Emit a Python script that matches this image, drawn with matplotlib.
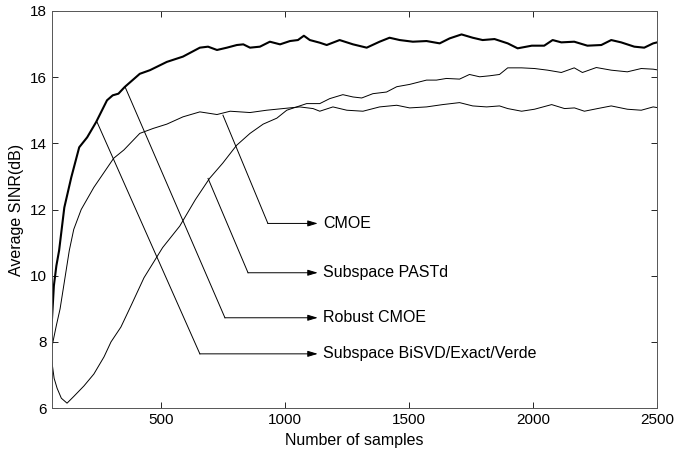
import numpy as np
import matplotlib
matplotlib.use("Agg")
import matplotlib.pyplot as plt

plt.rcParams["font.family"] = ["Liberation Sans", "DejaVu Sans"]

# thick curve (two algorithms lying on top of each other)
thick_x = [62, 70, 80, 91, 112, 140, 172, 204, 240, 284, 307, 330, 355, 416, 457,
           525, 590, 658, 691, 727, 767, 807, 833, 860, 900, 940, 981, 1021, 1053,
           1077, 1101, 1141, 1169, 1221, 1275, 1330, 1382, 1422, 1463, 1516, 1571,
           1624, 1664, 1712, 1757, 1797, 1845, 1898, 1938, 1995, 2045, 2079, 2114,
           2166, 2219, 2275, 2315, 2355, 2408, 2448, 2484, 2500]
thick_y = [8.65, 9.7, 10.3, 10.76, 12.06, 12.97, 13.88, 14.18, 14.64, 15.3, 15.45,
           15.5, 15.7, 16.1, 16.21, 16.46, 16.62, 16.89, 16.92, 16.82, 16.89, 16.97,
           16.99, 16.89, 16.92, 17.07, 16.99, 17.09, 17.12, 17.25, 17.12, 17.04,
           16.97, 17.12, 16.99, 16.89, 17.07, 17.19, 17.12, 17.07, 17.09, 17.02,
           17.17, 17.29, 17.19, 17.12, 17.15, 17.02, 16.87, 16.95, 16.95, 17.12,
           17.05, 17.07, 16.95, 16.97, 17.12, 17.05, 16.92, 16.89, 17.02, 17.05]

# curve levelling off near 15 dB
mid_x = [62, 80, 95, 132, 150, 180, 231, 311, 352, 416, 470, 525, 590, 658, 727,
         780, 860, 927, 993, 1060, 1114, 1141, 1194, 1250, 1315, 1382, 1451, 1503,
         1571, 1636, 1704, 1757, 1813, 1865, 1898, 1954, 2006, 2075, 2127, 2167,
         2207, 2260, 2315, 2380, 2436, 2484, 2500]
mid_y = [7.85, 8.5, 9.0, 10.76, 11.4, 12.0, 12.67, 13.55, 13.8, 14.3, 14.45, 14.58,
         14.8, 14.95, 14.87, 14.97, 14.93, 15.0, 15.05, 15.1, 15.05, 14.97, 15.1,
         15.0, 14.97, 15.1, 15.15, 15.07, 15.1, 15.17, 15.23, 15.13, 15.1, 15.13,
         15.05, 14.97, 15.03, 15.17, 15.05, 15.07, 14.97, 15.05, 15.13, 15.03, 15.0,
         15.1, 15.08]

# slow curve with the dip near 6 dB
slow_x = [62, 71, 83, 100, 123, 151, 191, 231, 272, 300, 340, 381, 433, 508, 577,
          640, 697, 750, 806, 860, 913, 968, 1008, 1048, 1088, 1141, 1181, 1234,
          1275, 1310, 1355, 1410, 1451, 1503, 1571, 1611, 1651, 1704, 1744, 1785,
          1825, 1865, 1898, 1954, 2006, 2059, 2114, 2166, 2199, 2255, 2315, 2380,
          2436, 2484, 2500]
slow_y = [7.4, 6.9, 6.6, 6.3, 6.15, 6.36, 6.67, 7.03, 7.55, 8.0, 8.45, 9.1, 9.94,
          10.85, 11.5, 12.3, 12.94, 13.4, 13.94, 14.3, 14.58, 14.76, 15.0, 15.1,
          15.2, 15.2, 15.35, 15.47, 15.4, 15.37, 15.5, 15.55, 15.71, 15.78, 15.91,
          15.91, 15.96, 15.94, 16.08, 16.01, 16.04, 16.08, 16.28, 16.28, 16.26,
          16.21, 16.14, 16.28, 16.14, 16.29, 16.21, 16.16, 16.26, 16.24, 16.22]

# annotation labels: point on curve, bend point, label row
labels = ["CMOE", "Subspace PASTd", "Robust CMOE", "Subspace BiSVD/Exact/Verde"]
label_from = [(751, 14.85), (691, 12.94), (357, 15.70), (244, 14.64)]
label_bend = [(932, 11.58), (852, 10.09), (759, 8.73), (658, 7.64)]
arrow_end_x = 1133


def main():
    fig = plt.figure(figsize=(6.74, 4.55), dpi=100)
    ax = fig.add_axes([0.077, 0.103, 0.898, 0.873])

    ax.plot(slow_x, slow_y, color="black", lw=0.7)
    ax.plot(mid_x, mid_y, color="black", lw=0.7)
    ax.plot(thick_x, thick_y, color="black", lw=1.5)

    for lab, p0, p1 in zip(labels, label_from, label_bend):
        ax.plot([p0[0], p1[0]], [p0[1], p1[1]], color="black", lw=0.7)
        ax.annotate("", xy=(arrow_end_x, p1[1]), xytext=p1,
                    arrowprops=dict(arrowstyle="-|>,head_length=0.6,head_width=0.18",
                                    color="black", lw=0.7, shrinkA=0, shrinkB=0))
        ax.text(arrow_end_x + 22, p1[1], lab, fontsize=11.5, va="center", ha="left")

    ax.set_xlim(62, 2500)
    ax.set_ylim(6, 18)
    ax.set_xticks([500, 1000, 1500, 2000, 2500])
    ax.set_yticks([6, 8, 10, 12, 14, 16, 18])
    ax.tick_params(direction="in", top=True, right=True, labelsize=11, length=4, width=0.6)
    for s in ax.spines.values():
        s.set_linewidth(0.7)
        s.set_color("#555555")

    ax.set_xlabel("Number of samples", fontsize=11.5)
    ax.set_ylabel("Average SINR(dB)", fontsize=11.5)

    fig.savefig("out.png", dpi=100)
    plt.close(fig)


if __name__ == "__main__":
    main()
